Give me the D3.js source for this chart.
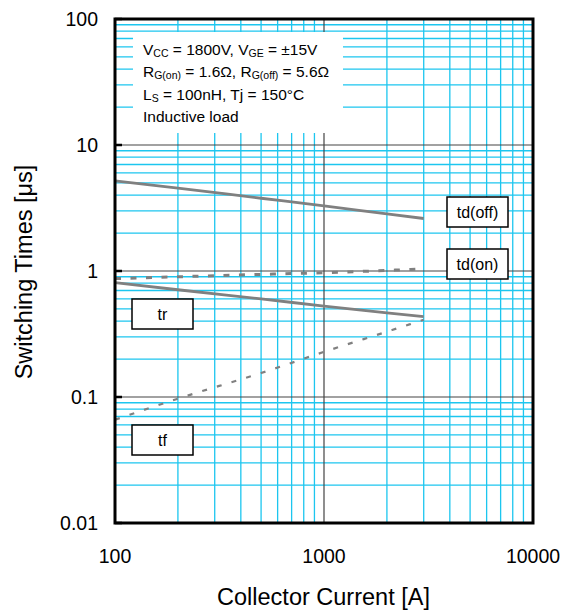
<!DOCTYPE html>
<html>
<head>
<meta charset="utf-8">
<script src="https://cdn.jsdelivr.net/npm/d3@7"></script>
<style>
  body { margin: 0; background: #fff; }
  text { font-family: Arial, "Liberation Sans", sans-serif; fill: #000; }
</style>
</head>
<body>
<div id="chart"></div>
<script>
// values
var current = [100, 200, 500, 1000, 2000, 3000];
var tdoff = [5.2, 4.55, 3.78, 3.29, 2.84, 2.61];
var tdon = [0.87, 0.90, 0.94, 0.97, 1.01, 1.04];
var tr = [0.81, 0.71, 0.60, 0.527, 0.465, 0.434];
var tf = [0.066, 0.097, 0.155, 0.228, 0.33, 0.41];

var xTicks = [100, 1000, 10000];
var yTicks = [0.01, 0.1, 1, 10, 100];
var yTickLabels = ["0.01", "0.1", "1", "10", "100"];

var width = 566,
height = 614;

var x = d3.scaleLog().domain([100, 10000]).range([115, 533]);
var y = d3.scaleLog().domain([0.01, 100]).range([523, 19]);

var svg = d3.select("#chart").append("svg")
  .attr("width", width)
  .attr("height", height);

// minor grid lines (2..9 of every decade)
var minorX = [], minorY = [];
[100, 1000].forEach(function(d) {
  for (var k = 2; k <= 9; k++) minorX.push(d * k);
});
[0.01, 0.1, 1, 10].forEach(function(d) {
  for (var k = 2; k <= 9; k++) minorY.push(d * k);
});

svg.append("g").selectAll("line")
  .data(minorX)
  .enter().append("line")
  .attr("x1", function(d) { return x(d); })
  .attr("x2", function(d) { return x(d); })
  .attr("y1", y(0.01))
  .attr("y2", y(100))
  .attr("stroke", "#1cc6ef")
  .attr("stroke-width", 1.3);

svg.append("g").selectAll("line")
  .data(minorY)
  .enter().append("line")
  .attr("x1", x(100))
  .attr("x2", x(10000))
  .attr("y1", function(d) { return y(d); })
  .attr("y2", function(d) { return y(d); })
  .attr("stroke", "#1cc6ef")
  .attr("stroke-width", 1.3);

// major grid lines
svg.append("g").selectAll("line")
  .data([1000])
  .enter().append("line")
  .attr("x1", function(d) { return x(d); })
  .attr("x2", function(d) { return x(d); })
  .attr("y1", y(0.01))
  .attr("y2", y(100))
  .attr("stroke", "#444")
  .attr("stroke-width", 1.2);

svg.append("g").selectAll("line")
  .data([0.1, 1, 10])
  .enter().append("line")
  .attr("x1", x(100))
  .attr("x2", x(10000))
  .attr("y1", function(d) { return y(d); })
  .attr("y2", function(d) { return y(d); })
  .attr("stroke", "#444")
  .attr("stroke-width", 1.2);

// conditions box
svg.append("rect")
  .attr("x", 133)
  .attr("y", 32)
  .attr("width", 210)
  .attr("height", 101)
  .attr("fill", "#fff");

var notes = svg.append("g").style("font-size", "15.5px");
var sub = function(t, s) {
  t.append("tspan").attr("baseline-shift", "-22%").style("font-size", "10.5px").text(s);
};
var l1 = notes.append("text").attr("x", 143).attr("y", 55);
l1.append("tspan").text("V");
sub(l1, "CC");
l1.append("tspan").text(" = 1800V, V");
sub(l1, "GE");
l1.append("tspan").text(" = \u00b115V");

var l2 = notes.append("text").attr("x", 143).attr("y", 77);
l2.append("tspan").text("R");
sub(l2, "G(on)");
l2.append("tspan").text(" = 1.6\u03a9, R");
sub(l2, "G(off)");
l2.append("tspan").text(" = 5.6\u03a9");

var l3 = notes.append("text").attr("x", 143).attr("y", 100);
l3.append("tspan").text("L");
sub(l3, "S");
l3.append("tspan").text(" = 100nH, Tj = 150\u00b0C");

notes.append("text").attr("x", 143).attr("y", 122).text("Inductive load");

// curves
var line = d3.line()
  .x(function(d) { return x(d[0]); })
  .y(function(d) { return y(d[1]); })
  .curve(d3.curveMonotoneX);

var series = [
  { vals: tdoff, dash: null, w: 2.8 },
  { vals: tdon, dash: "6,9.5", w: 3 },
  { vals: tr, dash: null, w: 2.8 },
  { vals: tf, dash: "5,10.3", w: 2.2 }
];

svg.append("g").selectAll("path")
  .data(series)
  .enter().append("path")
  .attr("d", function(s) { return line(current.map(function(c, i) { return [c, s.vals[i]]; })); })
  .attr("fill", "none")
  .attr("stroke", "#808080")
  .attr("stroke-width", function(s) { return s.w; })
  .attr("stroke-dasharray", function(s) { return s.dash; });

// curve labels
var labels = [
  { t: "td(off)", x: 447, y: 197 },
  { t: "td(on)", x: 447, y: 249 },
  { t: "tr", x: 132, y: 299 },
  { t: "tf", x: 132, y: 425 }
];

var lab = svg.append("g").selectAll("g")
  .data(labels)
  .enter().append("g")
  .attr("transform", function(d) { return "translate(" + d.x + "," + d.y + ")"; });

lab.append("rect")
  .attr("width", 61)
  .attr("height", 30)
  .attr("fill", "#fff")
  .attr("stroke", "#000")
  .attr("stroke-width", 1.5);

lab.append("text")
  .attr("x", 30.5)
  .attr("y", 21)
  .style("text-anchor", "middle")
  .style("font-size", "16px")
  .text(function(d) { return d.t; });

// frame
svg.append("rect")
  .attr("x", x(100))
  .attr("y", y(100))
  .attr("width", x(10000) - x(100))
  .attr("height", y(0.01) - y(100))
  .attr("fill", "none")
  .attr("stroke", "#000")
  .attr("stroke-width", 3);

svg.append("g").selectAll("line")
  .data(yTicks)
  .enter().append("line")
  .attr("x1", x(100))
  .attr("x2", x(100) + 7)
  .attr("y1", function(d) { return y(d); })
  .attr("y2", function(d) { return y(d); })
  .attr("stroke", "#000")
  .attr("stroke-width", 2.5);

// tick labels
svg.append("g").selectAll("text")
  .data(yTicks)
  .enter().append("text")
  .attr("x", 98)
  .attr("y", function(d) { return y(d) + 7; })
  .style("text-anchor", "end")
  .style("font-size", "19.5px")
  .text(function(d, i) { return yTickLabels[i]; });

svg.append("g").selectAll("text")
  .data(xTicks)
  .enter().append("text")
  .attr("x", function(d) { return x(d); })
  .attr("y", 563)
  .style("text-anchor", "middle")
  .style("font-size", "19.5px")
  .text(function(d) { return d; });

// axis titles
svg.append("text")
  .attr("x", 323.5)
  .attr("y", 605)
  .style("text-anchor", "middle")
  .style("font-size", "23.5px")
  .text("Collector Current [A]");

svg.append("text")
  .attr("transform", "translate(32,272) rotate(-90)")
  .style("text-anchor", "middle")
  .style("font-size", "23.5px")
  .text("Switching Times [\u03bcs]");
</script>
</body>
</html>
